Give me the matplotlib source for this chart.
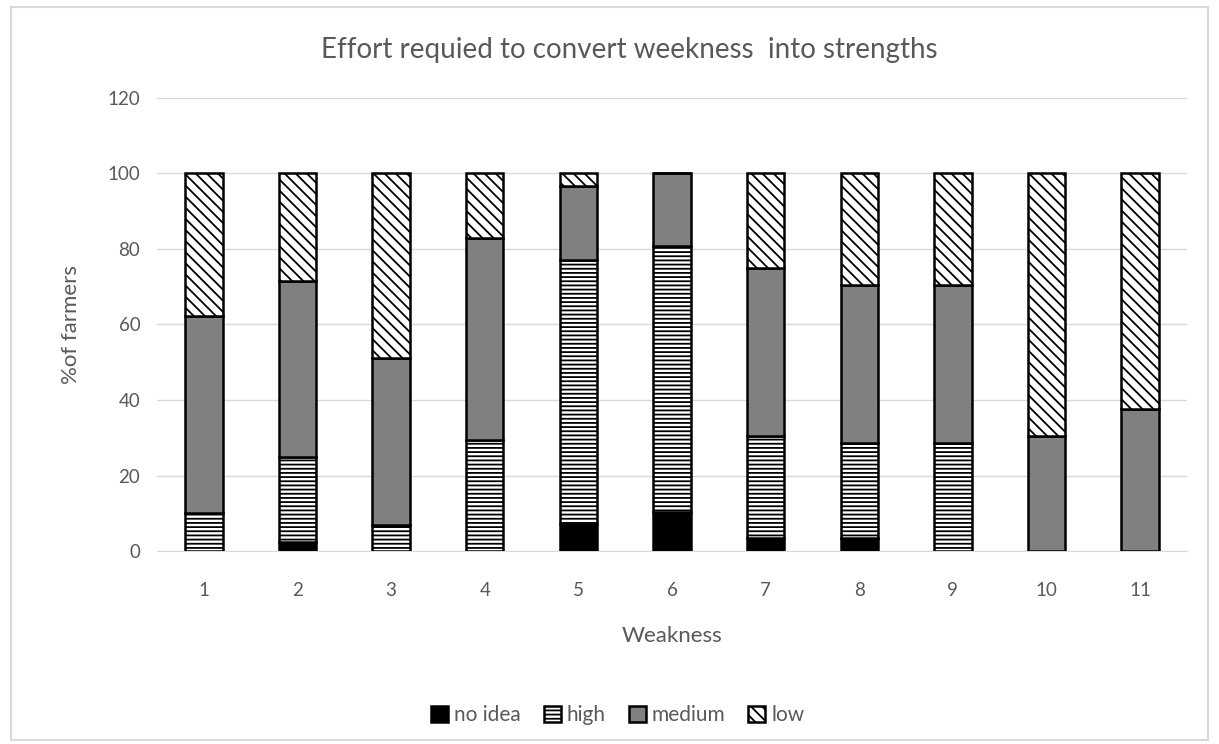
import matplotlib.pyplot as plt
import numpy as np

# ── Data ──
weakness = ["1", "2", "3", "4", "5", "6", "7", "8", "9", "10", "11"]
no_idea = [0, 2.4, 0, 0, 7.1, 10.3, 3.4, 3.4, 0, 0, 0]
high    = [10.0, 22.5, 6.9, 29.4, 69.9, 70.4, 27.0, 25.2, 28.6, 0, 0]
medium  = [52.2, 46.5, 44.1, 53.6, 19.8, 19.3, 44.5, 41.8, 41.8, 30.4, 37.6]
low     = [37.8, 28.6, 49.0, 17.0, 3.2, 0, 25.1, 29.6, 29.6, 69.6, 62.4]

plt.rcParams["font.family"] = ["Lato", "DejaVu Sans"]
plt.rcParams["hatch.linewidth"] = 1.3
text_color = "#595959"

fig = plt.figure(figsize=(12.19, 7.44), dpi=100)
ax = fig.add_axes([0.1288, 0.2594, 0.8449, 0.6089])

x = np.arange(len(weakness))
width = 0.4
bottom = np.zeros(len(weakness))
series = [
    ("no idea", no_idea, "black", None),
    ("high", high, "white", "----"),
    ("medium", medium, "#808080", None),
    ("low", low, "white", "\\\\\\"),
]
for label, vals, color, hatch in series:
    vals = np.array(vals)
    ax.bar(x, vals, width, bottom=bottom, color=color, edgecolor="black",
           linewidth=1.8, hatch=hatch, label=label, zorder=3)
    bottom += vals

ax.set_ylim(0, 120)
ax.set_xlim(-0.5, len(weakness) - 0.5)
ax.set_yticks(range(0, 121, 20))
ax.set_xticks(x)
ax.set_xticklabels(weakness)
ax.grid(axis="y", color="#d9d9d9", linewidth=1, zorder=0)
for side in ["top", "right", "left"]:
    ax.spines[side].set_visible(False)
ax.spines["bottom"].set_color("#d9d9d9")
ax.tick_params(length=0, labelsize=13.5, colors=text_color)
ax.tick_params(axis="x", pad=22)
ax.tick_params(axis="y", pad=12)

fig.text(629 / 1219, 1 - 50 / 744,
         "Effort requied to convert weekness  into strengths",
         fontsize=20, color=text_color, ha="center", va="center")
ax.set_xlabel("Weakness", fontsize=16, color=text_color, labelpad=20)
ax.set_ylabel("%of farmers", fontsize=16, color=text_color, labelpad=19)

fig.legend(loc="center", bbox_to_anchor=(618 / 1219, 1 - 715 / 744), ncol=4,
           frameon=False, fontsize=15, labelcolor=text_color,
           handlelength=0.8, handleheight=0.8, handletextpad=0.3,
           columnspacing=1.1)

# light outer border like the chart area frame
fig.patches.append(plt.Rectangle((0.009, 0.005), 0.982, 0.985,
                                 transform=fig.transFigure, fill=False,
                                 edgecolor="#d9d9d9", linewidth=1.5))

fig.savefig("out.png", dpi=100)
